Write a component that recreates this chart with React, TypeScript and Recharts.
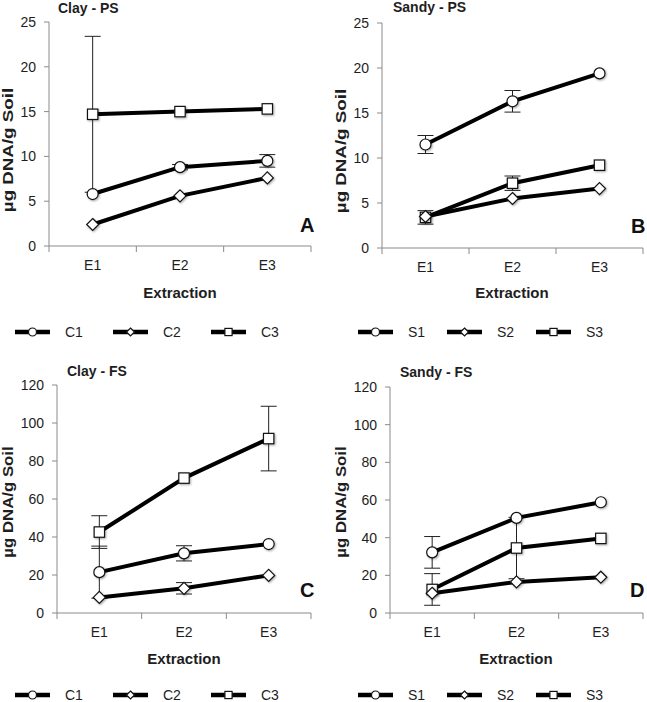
import React from 'react';
import { LineChart, Line, XAxis, YAxis, ErrorBar } from 'recharts';

// ---------- DATA ----------
const extractions = ['E1', 'E2', 'E3'];
const clayNames = ['C1', 'C2', 'C3'];
const sandyNames = ['S1', 'S2', 'S3'];
const markerShapes = ['circle', 'diamond', 'square'];

const psTicks = [0, 5, 10, 15, 20, 25];
const fsTicks = [0, 20, 40, 60, 80, 100, 120];

// A: Clay - PS
const clayPS_C1 = [5.8, 8.8, 9.5];
const clayPS_C2 = [2.4, 5.6, 7.6];
const clayPS_C3 = [14.7, 15.0, 15.3];
const clayPS_C1_err = [0, 0.3, 0.7];
const clayPS_C2_err = [0, 0, 0];
const clayPS_C3_err = [8.7, 0, 0];

// B: Sandy - PS
const sandyPS_S1 = [11.5, 16.3, 19.4];
const sandyPS_S2 = [3.5, 5.5, 6.6];
const sandyPS_S3 = [3.4, 7.2, 9.2];
const sandyPS_S1_err = [1.0, 1.2, 0];
const sandyPS_S2_err = [0, 0, 0];
const sandyPS_S3_err = [0.75, 0.8, 0];

// C: Clay - FS
const clayFS_C1 = [21.5, 31.4, 36.3];
const clayFS_C2 = [8.2, 13.0, 19.8];
const clayFS_C3 = [42.6, 71.0, 91.8];
const clayFS_C1_err = [13.7, 4.0, 0];
const clayFS_C2_err = [0, 3.0, 0];
const clayFS_C3_err = [8.6, 0, 17.0];

// D: Sandy - FS
const sandyFS_S1 = [32.2, 50.5, 58.8];
const sandyFS_S2 = [10.5, 16.5, 19.0];
const sandyFS_S3 = [12.5, 34.5, 39.6];
const sandyFS_S1_err = [8.4, 0, 0];
const sandyFS_S2_err = [0, 0, 0];
const sandyFS_S3_err = [8.4, 16.3, 0];

// ---------- STYLE ----------
const FONT = '"Liberation Sans", Arial, Helvetica, sans-serif';
const AXIS = '#8a8a8a';
const TEXT = '#1e1e1e';

function buildRows(names: string[], values: number[][], errors: number[][]) {
  return extractions.map((cat, i) => {
    const r: any = { x: i + 0.5, cat };
    names.forEach((n, k) => {
      r[n] = values[k][i];
      r[n + '_err'] = errors[k][i];
    });
    return r;
  });
}

function MarkerShape({ shape, cx, cy, s }: { shape: string; cx: number; cy: number; s: number }) {
  const st = { fill: '#fff', stroke: '#111', strokeWidth: 1.2 };
  if (shape === 'circle') return <circle cx={cx} cy={cy} r={s} {...st} />;
  if (shape === 'diamond')
    return <path d={`M${cx},${cy - s} L${cx + s},${cy} L${cx},${cy + s} L${cx - s},${cy} Z`} {...st} />;
  return <rect x={cx - s} y={cy - s} width={2 * s} height={2 * s} {...st} />;
}

const makeDot = (shape: string) => (props: any) => {
  const { cx, cy, index } = props;
  if (cx == null || cy == null) return <g key={`${shape}-${index}`} />;
  const s = shape === 'circle' ? 5.5 : shape === 'diamond' ? 6 : 5.2;
  return (
    <g key={`${shape}-${index}`} style={{ filter: 'drop-shadow(1px 1px 0.8px rgba(0,0,0,0.35))' }}>
      <MarkerShape shape={shape} cx={cx} cy={cy} s={s} />
    </g>
  );
};

const renderXTick = (offsetY: number) => (props: any) => {
  const { x, y, payload } = props;
  const v = payload.value as number;
  if (Math.abs(v - Math.round(v)) < 1e-6) {
    return <line x1={x} x2={x} y1={y} y2={y + 6} stroke={AXIS} strokeWidth={1} />;
  }
  return (
    <text x={x} y={y + offsetY} textAnchor="middle" dominantBaseline="central" fontSize={14} fill={TEXT} fontFamily={FONT}>
      {extractions[Math.floor(v)]}
    </text>
  );
};

type PanelCfg = {
  left: number; top: number; width: number; height: number;
  marginTop: number; marginRight: number; yAxisWidth: number; xAxisHeight: number;
  yMax: number; yTicks: number[];
  title: string; titleX: number; titleY: number;
  letter: string; letterX: number; letterY: number;
  yLabelX: number; yLabelY: number; yLabelStretch: number;
  extractionX: number; extractionY: number;
  legendY: number; legendX0: number; legendStep: number;
  names: string[]; values: number[][]; errors: number[][];
};

function Panel({ c }: { c: PanelCfg }) {
  const rows = buildRows(c.names, c.values, c.errors);
  const order = c.names.map((n, k) => ({ n, k })).reverse();
  return (
    <>
      <div style={{ position: 'absolute', left: c.left, top: c.top }}>
        <LineChart
          width={c.width}
          height={c.height}
          data={rows}
          margin={{ top: c.marginTop, right: c.marginRight, left: 0, bottom: 0 }}
        >
          <XAxis
            type="number"
            dataKey="x"
            domain={[0, 3]}
            ticks={[0, 0.5, 1, 1.5, 2, 2.5, 3]}
            interval={0}
            tickLine={false}
            tickSize={0}
            tickMargin={0}
            axisLine={{ stroke: AXIS, strokeWidth: 1 }}
            height={c.xAxisHeight}
            tick={renderXTick(19)}
            allowDataOverflow
          />
          <YAxis
            type="number"
            domain={[0, c.yMax]}
            ticks={c.yTicks}
            interval={0}
            width={c.yAxisWidth}
            tickSize={5}
            tickMargin={8}
            axisLine={{ stroke: AXIS, strokeWidth: 1 }}
            tickLine={{ stroke: AXIS, strokeWidth: 1 }}
            tick={{ fontSize: 14, fill: TEXT, fontFamily: FONT }}
            allowDataOverflow
          />
          {order.map(({ n, k }) => (
            <Line
              key={n}
              dataKey={n}
              type="linear"
              stroke="#000"
              strokeWidth={4}
              isAnimationActive={false}
              dot={makeDot(markerShapes[k])}
              activeDot={false}
            >
              <ErrorBar dataKey={n + '_err'} width={8} stroke="#222" strokeWidth={1} direction="y" isAnimationActive={false} />
            </Line>
          ))}
        </LineChart>
      </div>
      <div style={{ position: 'absolute', left: c.titleX, top: c.titleY - 8, fontSize: 14, fontWeight: 700, lineHeight: '16px', color: TEXT, whiteSpace: 'nowrap' }}>
        {c.title}
      </div>
      <div style={{ position: 'absolute', left: c.letterX, top: c.letterY - 11, fontSize: 20, fontWeight: 700, lineHeight: '22px', color: '#111' }}>
        {c.letter}
      </div>
      <div
        style={{
          position: 'absolute', left: c.yLabelX, top: c.yLabelY,
          transform: `translate(-50%, -50%) rotate(-90deg) scaleX(${c.yLabelStretch})`,
          fontSize: 15, fontWeight: 700, whiteSpace: 'nowrap', lineHeight: '16px', color: TEXT,
        }}
      >
        µg DNA/g Soil
      </div>
      <div
        style={{
          position: 'absolute', left: c.extractionX, top: c.extractionY,
          transform: 'translate(-50%, -50%)', fontSize: 15, fontWeight: 700, whiteSpace: 'nowrap', color: TEXT,
        }}
      >
        Extraction
      </div>
      {c.names.map((n, k) => {
        const lx = c.legendX0 + k * c.legendStep;
        return (
          <React.Fragment key={'lg' + n}>
            <svg style={{ position: 'absolute', left: lx - 2, top: c.legendY - 8 }} width={40} height={16}>
              <line x1={2} x2={37} y1={8} y2={8} stroke="#000" strokeWidth={4.5} />
              <MarkerShape shape={markerShapes[k]} cx={19.5} cy={8} s={markerShapes[k] === 'circle' ? 4 : markerShapes[k] === 'diamond' ? 4 : 3.6} />
            </svg>
            <div style={{ position: 'absolute', left: lx + 50, top: c.legendY - 8, fontSize: 14, lineHeight: '16px', color: TEXT }}>
              {n}
            </div>
          </React.Fragment>
        );
      })}
    </>
  );
}

const panels: PanelCfg[] = [
  {
    left: 0, top: 0, width: 320, height: 310, marginTop: 22, marginRight: 9, yAxisWidth: 49, xAxisHeight: 64,
    yMax: 25, yTicks: psTicks, title: 'Clay - PS', titleX: 58, titleY: 8, letter: 'A', letterX: 300, letterY: 225,
    yLabelX: 8, yLabelY: 150, yLabelStretch: 1.25, extractionX: 180, extractionY: 292, legendY: 332, legendX0: 15, legendStep: 98,
    names: clayNames, values: [clayPS_C1, clayPS_C2, clayPS_C3], errors: [clayPS_C1_err, clayPS_C2_err, clayPS_C3_err],
  },
  {
    left: 320, top: 0, width: 327, height: 310, marginTop: 23, marginRight: 4, yAxisWidth: 62, xAxisHeight: 62,
    yMax: 25, yTicks: psTicks, title: 'Sandy - PS', titleX: 393, titleY: 7, letter: 'B', letterX: 631, letterY: 226,
    yLabelX: 341, yLabelY: 151, yLabelStretch: 1.25, extractionX: 512, extractionY: 292, legendY: 332, legendX0: 358, legendStep: 89,
    names: sandyNames, values: [sandyPS_S1, sandyPS_S2, sandyPS_S3], errors: [sandyPS_S1_err, sandyPS_S2_err, sandyPS_S3_err],
  },
  {
    left: 0, top: 340, width: 320, height: 362, marginTop: 45, marginRight: 9, yAxisWidth: 57, xAxisHeight: 89,
    yMax: 120, yTicks: fsTicks, title: 'Clay - FS', titleX: 67, titleY: 371, letter: 'C', letterX: 300, letterY: 590,
    yLabelX: 8, yLabelY: 502, yLabelStretch: 1.12, extractionX: 184, extractionY: 658, legendY: 695, legendX0: 15, legendStep: 98,
    names: clayNames, values: [clayFS_C1, clayFS_C2, clayFS_C3], errors: [clayFS_C1_err, clayFS_C2_err, clayFS_C3_err],
  },
  {
    left: 320, top: 340, width: 327, height: 362, marginTop: 47, marginRight: 4, yAxisWidth: 70, xAxisHeight: 89,
    yMax: 120, yTicks: fsTicks, title: 'Sandy - FS', titleX: 400, titleY: 372, letter: 'D', letterX: 630, letterY: 590,
    yLabelX: 341, yLabelY: 502, yLabelStretch: 1.12, extractionX: 516, extractionY: 658, legendY: 695, legendX0: 358, legendStep: 89,
    names: sandyNames, values: [sandyFS_S1, sandyFS_S2, sandyFS_S3], errors: [sandyFS_S1_err, sandyFS_S2_err, sandyFS_S3_err],
  },
];

export default function App() {
  return (
    <div style={{ position: 'absolute', left: 0, top: 0, width: 647, height: 702, background: '#fff', fontFamily: FONT, overflow: 'hidden' }}>
      {panels.map((p) => (
        <Panel key={p.title} c={p} />
      ))}
    </div>
  );
}
